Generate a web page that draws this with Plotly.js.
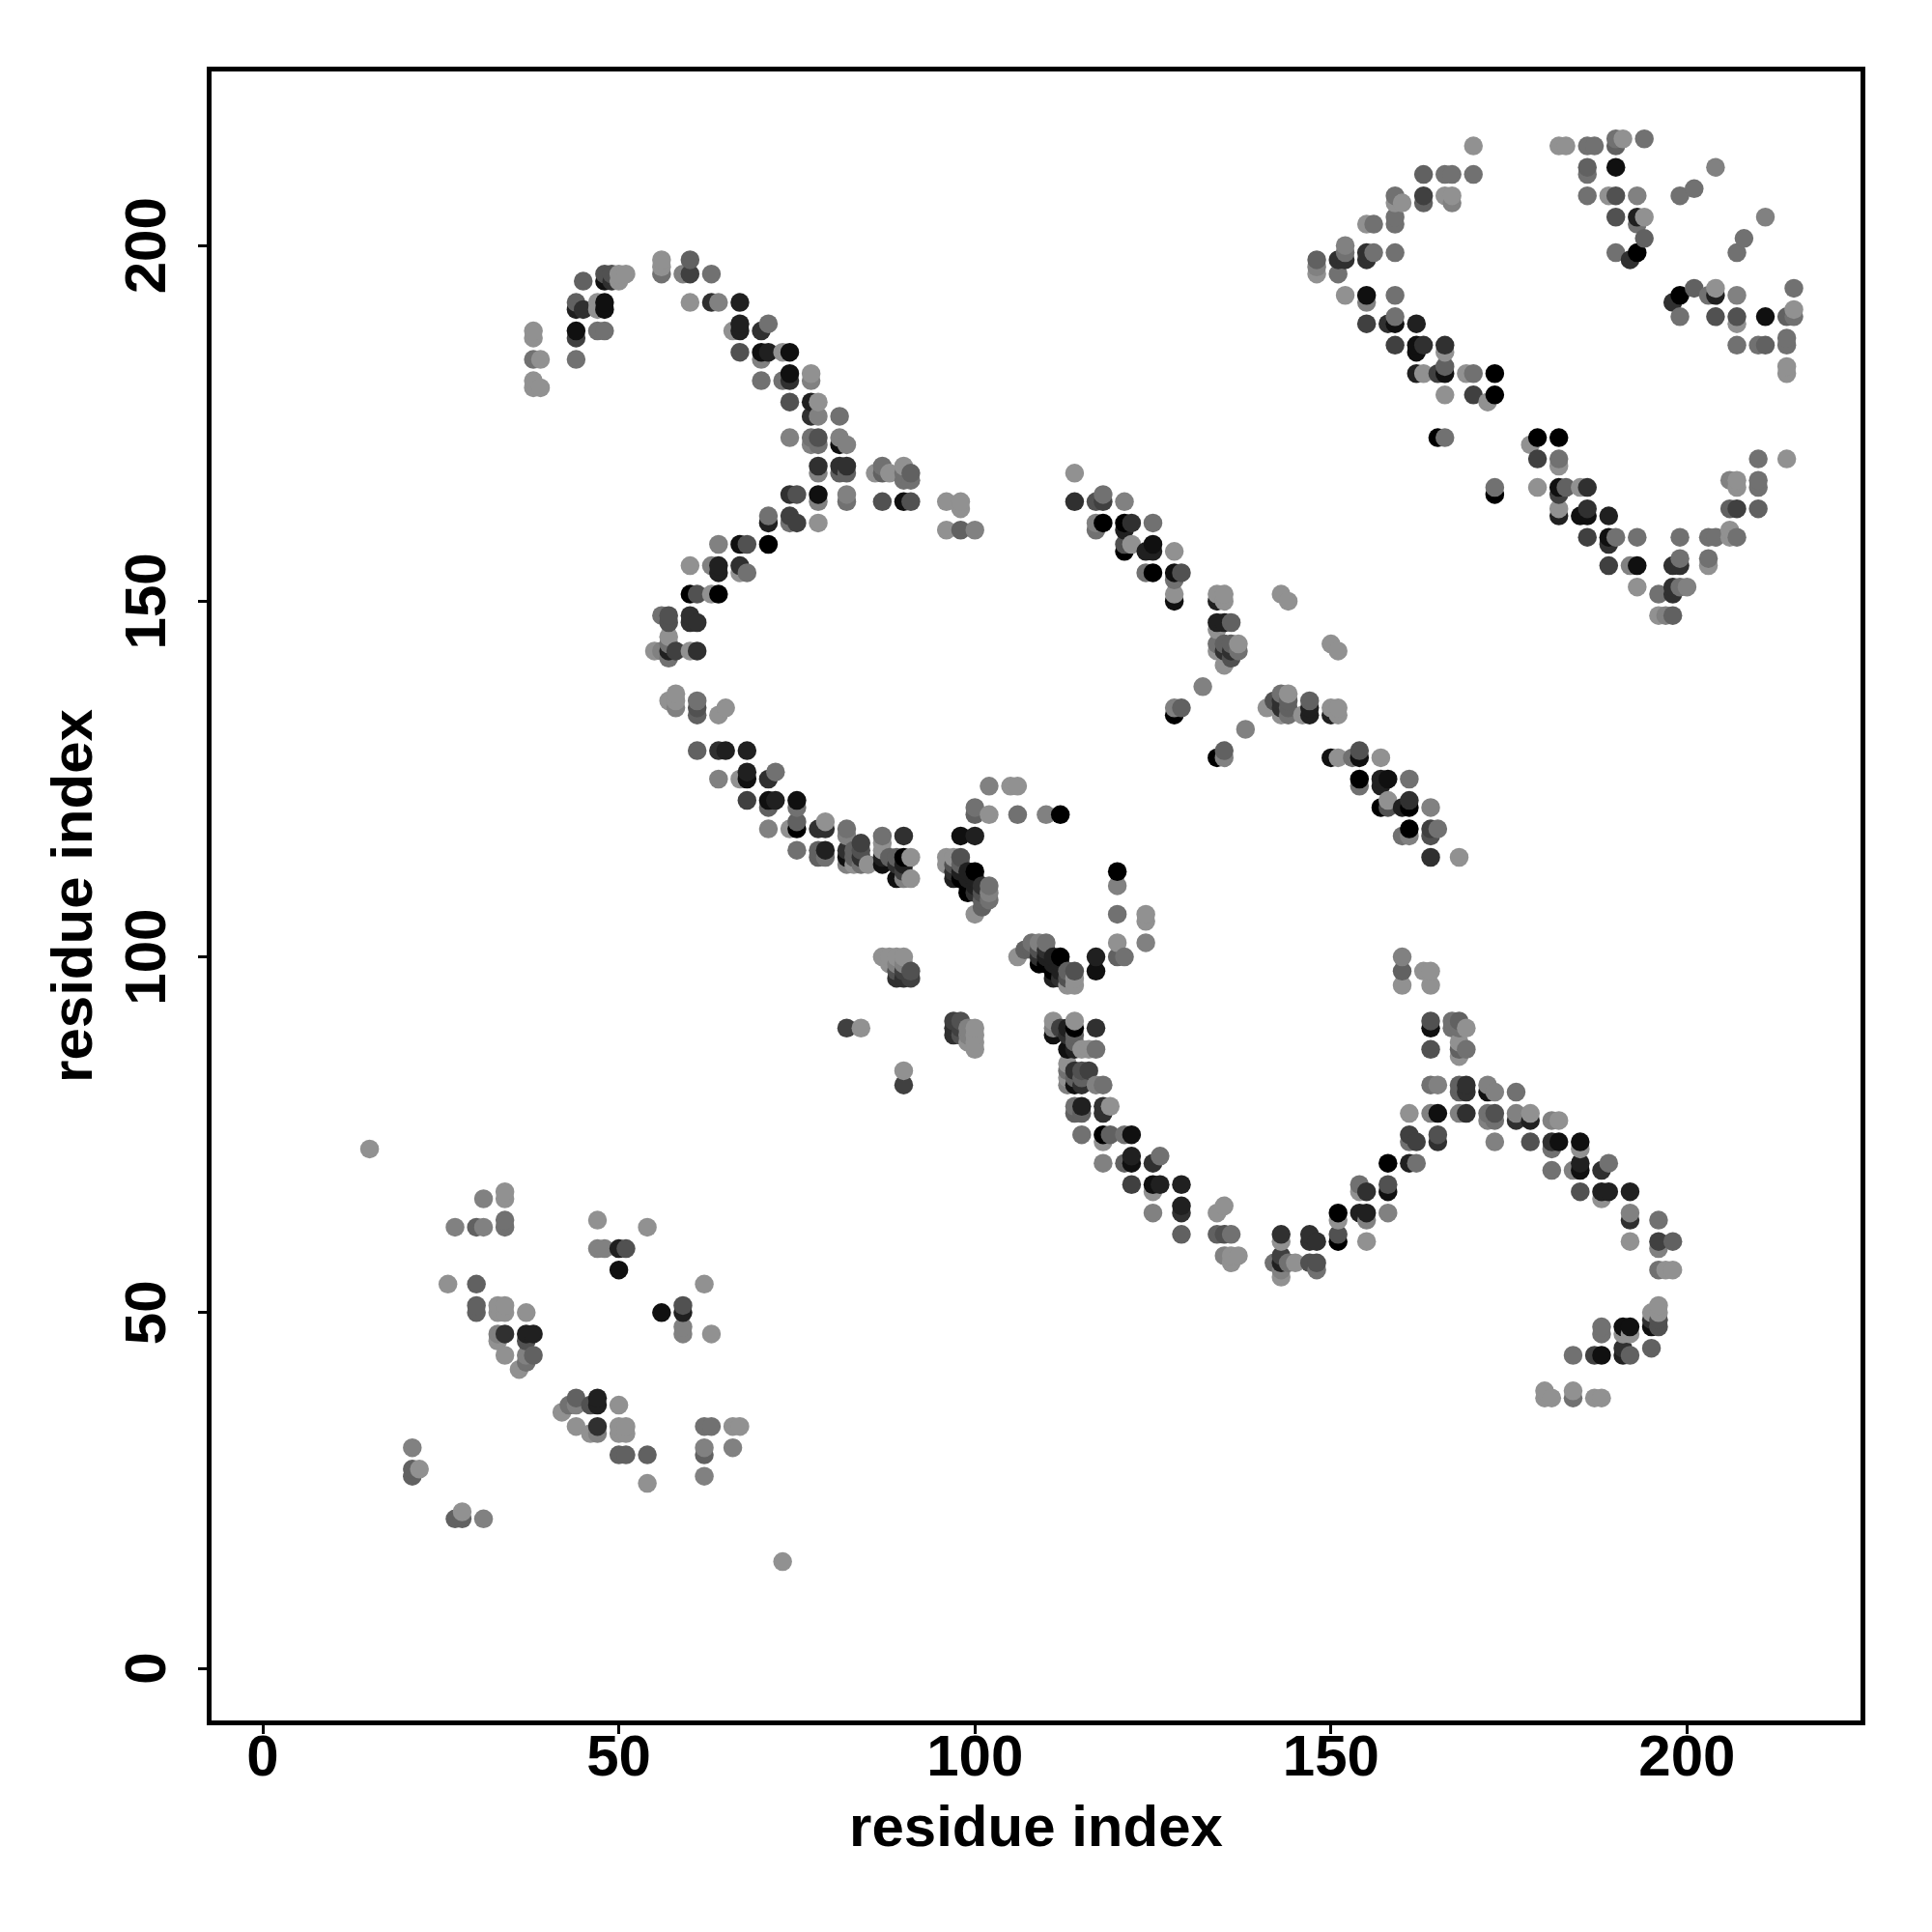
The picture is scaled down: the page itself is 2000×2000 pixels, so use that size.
<!DOCTYPE html>
<html><head><meta charset="utf-8">
<script src="https://cdn.plot.ly/plotly-3.0.1.min.js"></script>
<style>html,body{margin:0;padding:0;background:#fff}#plot{width:2000px;height:2000px}</style>
</head><body><div id="plot"></div>
<script>
// contact pairs [residue i, residue j, contact depth 0 (faint) .. 9 (strong)]; the map is symmetric
const contactsLow = [[15,73,0],[21,27,3],[21,28,3],[22,28,0],[21,31,1],
[30,50,3],[30,51,3],[30,54,3],[26,54,0],[27,62,1],[30,62,3],[31,62,1],[31,66,1],[34,62,2],[34,63,2],[34,66,0],[34,67,0],
[33,46,0],[33,47,1],[33,50,0],[33,51,0],[34,44,0],[34,47,6],[34,50,0],[34,51,0],
[36,42,0],[37,43,2],[37,44,1],[38,44,3],[37,46,4],[37,47,7],[38,47,7],[37,50,0],
[47,59,1],[48,59,1],[47,63,0],[50,56,8],[50,59,7],[51,59,4],[54,62,0]];
const contactsArcTop = [[38,188,0],[38,187,0],[38,184,2],[39,184,0],[38,181,0],[38,180,0],[39,180,0],
[44,192,3],[44,191,7],[45,191,6],[44,188,8],[44,187,5],[44,184,2],
[45,195,3],[48,196,4],[48,195,8],[49,195,6],[49,196,4],[50,196,0],[50,195,0],[51,196,0],
[47,192,0],[47,191,0],[48,192,8],[48,191,8],[47,188,2],[48,188,2],
[56,198,0],[56,197,0],[56,196,2],[60,198,3],[59,196,1],[60,196,5],[63,196,2],
[60,192,0],[63,192,6],[64,192,1],[67,192,7],
[66,188,0],[67,189,7],[67,188,7],[70,188,6],[71,189,2],[67,185,4],[70,185,8],[71,185,7],[73,185,0],[74,185,8],[70,184,1],
[70,181,2],[73,181,2],[74,182,8],[74,181,6],[77,182,0],[77,181,1],
[74,178,4],[77,178,7],[78,178,0],[77,176,6],[78,176,1],[81,176,2],
[74,173,1],[77,173,2],[77,172,1],[78,173,4],[78,172,2],[81,173,1],[81,172,8],[82,172,1],
[78,169,6],[78,168,1],[81,169,6],[82,169,6],[81,168,3],[82,168,3],
[87,169,2],[86,168,0],[87,168,3],[88,168,0],[90,169,0],[91,168,3],[90,168,2],[90,167,2],[91,167,2],
[74,165,6],[75,165,4],[78,165,8],[78,164,1],[82,165,1],[82,164,2],
[87,164,4],[90,164,8],[91,164,4],
[96,164,0],[98,164,0],[98,163,0],[96,160,0],[98,160,3],[100,160,1]];
const contactsArcSide = [[71,162,2],[71,161,7],[74,162,5],[74,161,2],[75,161,5],[78,161,0],
[64,158,1],[67,158,8],[68,158,4],[71,158,9],
[60,155,0],[63,155,1],[64,155,7],[64,154,7],[67,155,6],[67,154,0],[68,154,2],
[60,151,9],[61,151,4],[63,151,0],[64,151,9],
[56,148,2],[57,148,4],[57,147,4],[60,148,6],[60,147,6],[61,147,6],
[57,145,0],[57,144,2],[55,143,0],[56,143,1],[57,143,7],[58,143,5],[60,143,0],[61,143,6],[57,142,2]];
const contactsArcMid = [[58,137,0],[57,136,0],[58,136,0],[58,135,1],[61,136,2],[61,135,4],[61,134,3],[64,134,0],[65,135,0],
[61,129,3],[64,129,6],[65,129,7],[68,129,7],
[64,125,1],[67,125,0],[68,126,7],[68,125,8],[71,125,6],[72,126,2],
[68,122,5],[71,122,8],[71,121,3],[72,122,7],[75,122,8],[75,121,2],
[71,118,1],[74,118,0],[75,119,3],[75,118,9],[78,118,6],[79,119,0],[79,118,6],
[75,115,2],[78,115,3],[78,114,3],[79,115,7],[79,114,2],
[82,118,2],[82,117,1],[82,115,6],[82,114,8],[82,113,1],[83,115,3],[84,116,5],[84,115,4],[83,114,3],[83,113,0],[84,114,6],[84,113,2],[85,113,0],
[87,117,2],[87,116,0],[87,115,0],[87,114,7],[87,113,8],[88,114,3],[89,114,3],[89,113,6],[90,117,6],[90,114,9],[90,113,7],[91,114,0],[89,111,8],[90,112,5],[90,111,1],[91,111,0]];
const contactsNear = [[96,114,0],[96,113,0],[97,114,0],[98,114,4],[97,113,4],[97,112,6],[98,113,3],[97,111,7],[98,112,7],[99,112,7],[100,112,9],[98,111,9],[99,111,7],[99,110,9],[100,111,7],[99,109,9],[100,110,7],[101,110,6],[101,109,4],[102,110,2],[102,109,1],[102,108,2],[101,108,3],[101,107,3],[100,106,0],[100,109,6],
[98,117,8],[100,117,7],[100,121,2],[100,120,3],[102,120,0],[102,124,1],[105,124,0],[106,124,0],[106,120,2],[110,120,1],[112,120,9],
[82,90,5],[84,90,0],[87,100,0],[88,100,0],[88,99,0],[89,100,0],[89,99,1],[89,98,4],[89,97,6],[90,100,0],[90,99,1],[90,98,5],[90,97,6],[91,98,4],[91,97,5]];
const contactsStrip = [[114,168,0],[114,164,6],[117,164,4],[118,165,2],[118,164,5],[121,164,1],
[117,161,1],[117,160,2],[118,161,9],[121,161,9],[121,160,7],[122,161,6],[125,161,2],
[121,158,4],[121,157,9],[122,158,0],[124,157,7],[125,158,8],[125,157,7],[128,157,0],
[124,154,2],[125,154,9],[128,154,8],[129,154,4],[128,153,2],
[128,151,0],[128,150,8],
[134,151,0],[135,151,0],[134,150,7],[135,150,0],
[134,147,7],[135,147,7],[136,147,3],[134,146,0],
[134,144,2],[135,144,3],[136,144,3],[137,144,0],[134,143,0],[135,143,6],[136,143,6],[137,143,2],[136,142,4],[135,141,0],
[143,151,0],[144,150,0],[132,138,1],[128,135,1],[129,135,3],[128,134,9]];
const contactsCorner = [[170,214,0],[163,210,3],[166,210,2],[167,210,2],[170,210,2],
[159,207,2],[159,206,0],[160,206,0],[163,207,5],[163,206,3],[166,207,0],[167,207,0],[167,206,1],
[155,203,0],[156,203,2],[159,204,2],[159,203,2],
[152,200,1],[151,198,6],[152,198,6],[152,199,2],[155,199,6],[155,198,6],[156,199,2],[159,199,2],
[148,198,3],[148,197,1],[148,196,0],[151,196,2],
[152,193,0],[155,193,8],[155,192,1],[159,193,2],
[155,189,5],[158,189,6],[159,189,8],[159,190,2],[162,189,7],
[159,186,5],[162,186,8],[162,185,8],[163,186,6],[166,186,6],[166,185,0],
[162,182,7],[163,182,0],[165,182,5],[166,183,3],[166,182,8],[169,182,0],[170,182,2],[173,182,9],
[166,179,0],[170,179,5],[173,179,9],[172,178,0],[165,173,9],[166,173,2],
[182,214,0],[183,214,0],[186,214,2],[187,214,2],[190,215,2],[191,215,0],[190,214,3],[194,215,2],
[186,211,3],[186,210,2],[190,211,8],[204,211,1],
[186,207,2],[189,207,0],[190,207,4],[193,207,1],[199,207,2],[201,208,2],
[190,204,4],[193,204,7],[194,204,0],[193,203,2],[194,201,3],[190,199,2],[193,199,9],[192,198,6]];
const tickValues = [0,50,100,150,200];
const tickLabels = ['0','50','100','150','200'];
const axisLabel = 'residue index';

const pairs = [...contactsLow,...contactsArcTop,...contactsArcSide,...contactsArcMid,...contactsNear,...contactsStrip,...contactsCorner];
const points = [];
pairs.forEach(([i,j,d]) => { points.push([i,j,d]); points.push([j,i,d]); });
points.sort((a,b) => a[0]-b[0] || a[1]-b[1]);

const font = {family:'"Liberation Sans", Arial, sans-serif', size:60, color:'#000', weight:'bold'};
const axisBase = {
  tickvals: tickValues, ticktext: tickLabels, ticks:'outside', ticklen:9, tickwidth:3, tickcolor:'#000',
  showgrid:false, zeroline:false, showline:true, mirror:true, linecolor:'#000', linewidth:5,
  tickfont:{...font}, automargin:false
};
Plotly.newPlot('plot', [{
  type:'scatter', mode:'markers',
  x: points.map(p=>p[0]), y: points.map(p=>p[1]),
  marker:{size:19.5, line:{width:0}, color: points.map(p=>p[2]), cmin:0, cmax:9,
    colorscale:[[0,'rgb(145,145,145)'],[1,'rgb(0,0,0)']], showscale:false},
  hoverinfo:'x+y'
}], {
  width:2000, height:2000, showlegend:false,
  paper_bgcolor:'#fff', plot_bgcolor:'#fff',
  margin:{l:219,r:74,t:74,b:218.5,pad:0},
  font:font,
  xaxis:{...axisBase, range:[-7.19,224.36], title:{text:axisLabel, font:{...font}, standoff:20}, tickangle:0, ticklabelstandoff:-29},
  yaxis:{...axisBase, range:[-7.33,224.47], title:{text:axisLabel, font:{...font}, standoff:4}, tickangle:-90, ticklabelstandoff:10, ticklabelshift:9}
}, {staticPlot:true, displayModeBar:false});
</script></body></html>
